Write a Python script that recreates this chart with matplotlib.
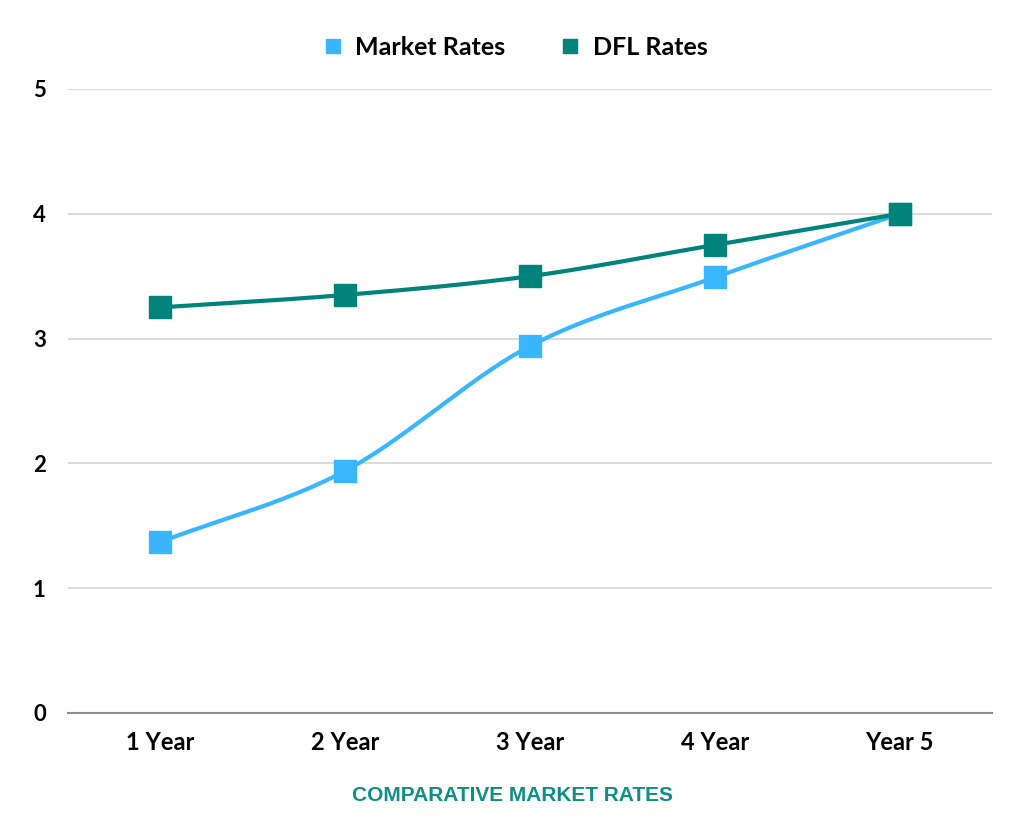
import numpy as np
import matplotlib.pyplot as plt

categories = ['1 Year', '2 Year', '3 Year', '4 Year', 'Year 5']
market_rates = [1.37, 1.94, 2.94, 3.49, 4.0]
dfl_rates = [3.25, 3.35, 3.5, 3.75, 4.0]

BLUE = '#38b6ff'
TEAL = '#00837b'


def smooth(x, y, n=40):
    # catmull-rom spline through the points, only for drawing the line
    x = np.asarray(x, float)
    y = np.asarray(y, float)
    px = np.concatenate([[2 * x[0] - x[1]], x, [2 * x[-1] - x[-2]]])
    py = np.concatenate([[2 * y[0] - y[1]], y, [2 * y[-1] - y[-2]]])
    xs, ys = [], []
    t = np.linspace(0, 1, n)
    for i in range(1, len(px) - 2):
        for p, out in ((px, xs), (py, ys)):
            p0, p1, p2, p3 = p[i - 1], p[i], p[i + 1], p[i + 2]
            out.extend(0.5 * (2 * p1 + (-p0 + p2) * t
                              + (2 * p0 - 5 * p1 + 4 * p2 - p3) * t ** 2
                              + (-p0 + 3 * p1 - 3 * p2 + p3) * t ** 3))
    return np.array(xs), np.array(ys)


plt.rcParams['font.family'] = ['Lato', 'DejaVu Sans']

fig = plt.figure(figsize=(10.24, 8.38), dpi=100)
ax = fig.add_axes([0.0664, 0.1492, 0.9023, 0.7446])

x = np.arange(len(categories))
for vals, col, lab in ((market_rates, BLUE, 'Market Rates'), (dfl_rates, TEAL, 'DFL Rates')):
    sx, sy = smooth(x, vals)
    ax.plot(sx, sy, color=col, lw=3, zorder=3, solid_capstyle='round')
    ax.plot(x, vals, ls='none', marker='s', ms=16, color=col, zorder=4, label=lab)

ax.set_xlim(-0.5, len(categories) - 0.5)
ax.set_ylim(0, 5)
ax.set_yticks(range(0, 6))
ax.set_xticks(x)
ax.set_xticklabels(categories)
ax.grid(axis='y', color='#d4d4d4', lw=1.2)
ax.set_axisbelow(True)
for s in ('top', 'right', 'left'):
    ax.spines[s].set_visible(False)
ax.spines['bottom'].set_color('#8c8c8c')
ax.spines['bottom'].set_linewidth(1.5)
ax.tick_params(axis='both', length=0, colors='black')
ax.tick_params(axis='y', pad=16, labelsize=16)
ax.tick_params(axis='x', pad=13, labelsize=17)
for lbl in ax.get_xticklabels() + ax.get_yticklabels():
    lbl.set_fontweight('bold')

ax.legend(loc='center', bbox_to_anchor=(0.484, 1.067), ncol=2, frameon=False,
          prop={'size': 18, 'weight': 'bold'}, markerscale=0.65,
          handlelength=0.8, handletextpad=0.5, columnspacing=2.2)

fig.text(0.5, 0.051, 'COMPARATIVE MARKET RATES', ha='center', va='center',
         color='#0e8f86', fontsize=15, fontweight='bold',
         family=['Liberation Sans Narrow', 'Liberation Sans', 'DejaVu Sans'])

fig.savefig('out.png', dpi=100, facecolor='white')
